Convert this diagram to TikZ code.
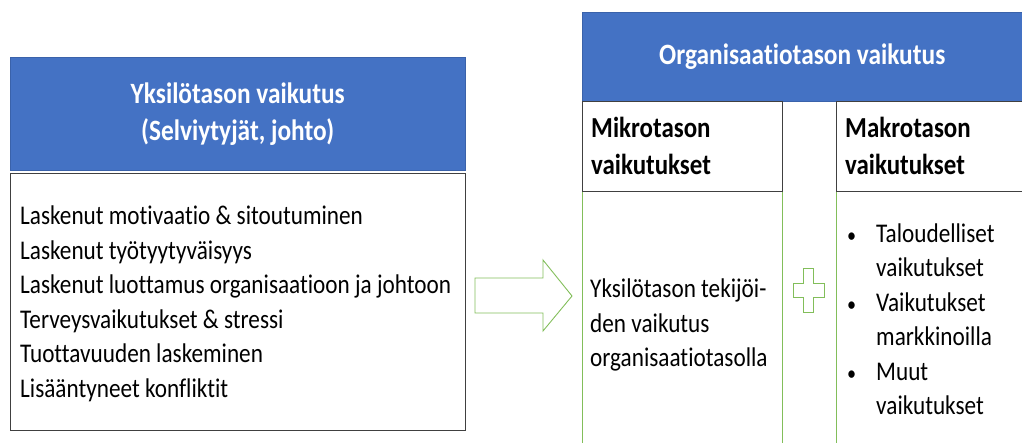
\documentclass[tikz,border=0pt]{standalone}
\usepackage{fontspec}
\setmainfont{Carlito}[FakeStretch=0.86,Ligatures=NoCommon]
\usetikzlibrary{positioning}
\definecolor{hdrblue}{RGB}{68,114,196}
\definecolor{hdrline}{RGB}{58,98,170}
\definecolor{boxgray}{RGB}{64,64,64}
\definecolor{leafgreen}{RGB}{130,190,90}
\newcommand{\itemdot}{\makebox[29pt][l]{\fontsize{21}{21}\selectfont•}}

\begin{document}
\begin{tikzpicture}[x=1pt,y=-1pt]
\tikzstyle{hdr}=[draw=hdrline,fill=hdrblue,text=white,inner sep=0pt,align=center,anchor=north west,font=\fontsize{29.5}{37}\selectfont\bfseries]
\tikzstyle{subhdr}=[draw=boxgray,fill=white,inner xsep=9pt,inner ysep=0pt,align=left,anchor=north west,minimum width=200pt,text width=182pt,minimum height=90pt,font=\fontsize{29}{37}\selectfont\bfseries]
\tikzstyle{greenbox}=[draw=leafgreen,line width=0.9pt,anchor=north west,minimum width=200pt,minimum height=270pt]
\tikzstyle{txt}=[align=left,anchor=west,inner sep=0pt,font=\fontsize{27}{34.5}\selectfont]
\useasboundingbox (0,0) rectangle (1022,443);
\clip (0,0) rectangle (1022,443);
% left side
\node[hdr,minimum width=455pt,minimum height=113pt] (yks) at (10,57) {Yksilötason vaikutus\\(Selviytyjät, johto)};
\node[draw=boxgray,line width=1pt,anchor=north west,minimum width=455pt,minimum height=257pt] (yksbox) at (10,173) {};
\node[txt,right=10pt of yksbox.west,yshift=-2pt] (yksleft)
  {Laskenut motivaatio \& sitoutuminen\\Laskenut työtyytyväisyys\\Laskenut luottamus organisaatioon ja johtoon\\Terveysvaikutukset \& stressi\\Tuottavuuden laskeminen\\Lisääntyneet konfliktit};
% right side
\node[greenbox] (mikrobox) at (582,191) {};
\node[greenbox,minimum width=204pt] (makrobox) at (836,190) {};
\node[hdr,minimum width=440pt,minimum height=89pt] (org) at (582,12) {Organisaatiotason vaikutus};
\node[subhdr] (mikro) at (582,101) {Mikrotason\\vaikutukset};
\node[subhdr] (makro) at (836,101) {Makrotason\\vaikutukset};
\node[txt] (mikrotxt) at (590,325) {Yksilötason tekijöi-\\den vaikutus\\organisaatiotasolla};
\node[txt] (makrotxt) at (847,319) {\itemdot Taloudelliset\\\hspace*{29pt}vaikutukset\\\itemdot Vaikutukset\\\hspace*{29pt}markkinoilla\\\itemdot Muut\\\hspace*{29pt}vaikutukset};
% block arrow and plus
\draw[leafgreen,line width=0.9pt,line join=miter] (475,278) -- (543,278) -- (543,260) -- (572,296) -- (543,331) -- (543,313) -- (475,313) -- cycle;
\draw[leafgreen,line width=0.9pt] (803,268) -- (813,268) -- (813,283) -- (824,283) -- (824,297) -- (813,297) -- (813,312) -- (803,312) -- (803,297) -- (793,297) -- (793,283) -- (803,283) -- cycle;
\end{tikzpicture}
\end{document}
